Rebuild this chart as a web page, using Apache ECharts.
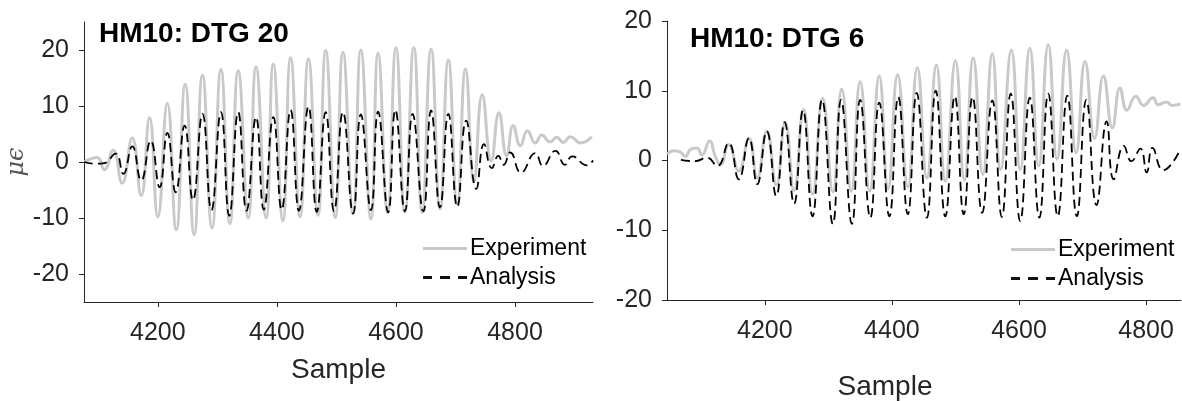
<!DOCTYPE html>
<html>
<head>
<meta charset="utf-8">
<title>HM10 strain</title>
<script src="https://cdn.jsdelivr.net/npm/echarts@6/dist/echarts.min.js"></script>
<style>
  html, body { margin: 0; padding: 0; background: #fff; }
  #chart { width: 1182px; height: 401px; }
</style>
</head>
<body>
<div id="chart"></div>
<script>
// HM10: DTG 20 (peaks / troughs)
const dtg20ExpX = [4076, 4098, 4110, 4125, 4140, 4157, 4172, 4186, 4200, 4216, 4231, 4246, 4261, 4275, 4291, 4306, 4321, 4335, 4352, 4365, 4382, 4394, 4410, 4423, 4439, 4453, 4469, 4482, 4498, 4511, 4528, 4541, 4558, 4570, 4586, 4600, 4615, 4630, 4644, 4659, 4674, 4688, 4703, 4717, 4731, 4745, 4760, 4773, 4786, 4797, 4809, 4821, 4834, 4845, 4859, 4870, 4881, 4893, 4910, 4929];
const dtg20ExpY = [0, 0.8, -1.4, 2.1, -3.8, 4.3, -6.0, 7.9, -9.8, 10.5, -12.1, 13.9, -13.0, 15.5, -11.8, 16.5, -11.0, 16.3, -10.0, 17.0, -10.0, 17.5, -10.5, 18.6, -9.8, 18.4, -9.5, 19.9, -9.9, 19.6, -9.3, 20.0, -10.2, 19.4, -9.0, 20.4, -9.0, 20.4, -9.0, 20.2, -8.4, 18.2, -7.5, 16.6, -3.5, 12.0, 0.2, 8.8, 1.1, 6.5, 2.9, 5.6, 3.4, 4.8, 3.6, 4.4, 3.5, 4.5, 3.4, 4.5];
const dtg20AnaX = [4076, 4095, 4110, 4129, 4142, 4157, 4172, 4188, 4203, 4216, 4230, 4245, 4259, 4275, 4290, 4306, 4320, 4335, 4349, 4365, 4378, 4394, 4408, 4423, 4437, 4453, 4467, 4482, 4496, 4511, 4528, 4541, 4558, 4570, 4587, 4599, 4615, 4628, 4646, 4659, 4674, 4688, 4703, 4718, 4735, 4748, 4761, 4772, 4781, 4792, 4810, 4834, 4847, 4868, 4884, 4896, 4921, 4931];
const dtg20AnaY = [0, -0.3, -0.2, 1.5, -2.1, 2.8, -3.3, 3.8, -4.5, 5.2, -5.4, 6.5, -6.8, 8.6, -8.6, 8.9, -9.6, 8.9, -8.7, 8.0, -8.5, 8.0, -8.5, 9.3, -8.7, 9.9, -8.9, 8.9, -8.8, 8.9, -9.2, 8.5, -8.6, 9.0, -9.0, 9.3, -8.8, 8.6, -8.8, 9.2, -8.1, 8.6, -8.0, 7.4, -4.8, 3.2, -1.1, 1.1, -0.5, 1.7, -1.9, 1.6, -0.7, 2.0, -0.5, 1.0, -0.6, 0.3];

// HM10: DTG 6
const dtg6ExpX = [4046, 4057, 4067, 4075, 4083, 4093, 4101, 4113, 4122, 4130, 4143, 4159, 4175, 4188, 4203, 4218, 4232, 4246, 4261, 4275, 4291, 4307, 4321, 4336, 4350, 4365, 4380, 4394, 4409, 4425, 4440, 4455, 4470, 4484, 4500, 4514, 4528, 4543, 4558, 4571, 4588, 4602, 4617, 4631, 4646, 4660, 4675, 4690, 4704, 4719, 4733, 4747, 4759, 4770, 4784, 4796, 4811, 4819, 4832, 4841, 4854];
const dtg6ExpY = [0.9, 1.4, 1.2, 0.6, 1.6, 1.8, 0.8, 2.8, 0.6, -0.6, 2.3, -1.5, 3.2, -2.5, 4.2, -3.5, 5.5, -4.3, 7.3, -4.8, 8.9, -4.5, 10.2, -4.4, 11.3, -4.4, 12.1, -4.0, 12.3, -3.8, 13.3, -2.5, 13.7, -3.0, 14.3, -2.8, 14.7, -2.0, 15.3, -1.3, 15.8, -1.3, 16.1, -0.8, 16.6, 0.2, 15.8, 1.1, 14.2, 3.2, 12.1, 4.7, 10.4, 7.2, 9.2, 7.9, 9.0, 8.0, 8.4, 7.9, 8.1];
const dtg6AnaX = [4068, 4090, 4109, 4125, 4143, 4159, 4175, 4188, 4203, 4218, 4231, 4246, 4260, 4275, 4290, 4307, 4320, 4337, 4350, 4366, 4380, 4396, 4410, 4425, 4439, 4455, 4469, 4484, 4499, 4513, 4527, 4542, 4558, 4573, 4587, 4602, 4617, 4632, 4646, 4661, 4676, 4691, 4706, 4722, 4738, 4749, 4765, 4777, 4791, 4801, 4810, 4827, 4854];
const dtg6AnaY = [0.1, -0.1, 0.4, -0.8, 2.5, -2.7, 3.2, -3.4, 4.2, -5.1, 5.5, -6.2, 7.2, -8.0, 8.7, -9.1, 8.7, -9.1, 8.7, -8.2, 8.3, -8.0, 9.1, -7.7, 9.7, -8.2, 10.0, -8.0, 9.2, -7.7, 9.1, -7.5, 8.6, -8.1, 9.6, -8.7, 9.0, -8.2, 9.6, -8.0, 9.3, -8.0, 8.7, -6.4, 5.6, -2.7, 2.1, -0.1, 1.7, -1.7, 1.8, -1.4, 1.6];

const xTicks = [4200, 4400, 4600, 4800];
const yTicksLeft = [-20, -10, 0, 10, 20];
const yTicksRight = [-20, -10, 0, 10, 20];
const titles = ["HM10: DTG 20", "HM10: DTG 6"];
const legendNames = ["Experiment", "Analysis"];

const FONT = "'Liberation Sans', Arial, Helvetica, sans-serif";
const AXIS_COLOR = "#262626";
const EXP_COLOR = "#c9c9c9";

// legend glyphs: a solid bar and three dashes
const ICON_SOLID = "path://M0,0h44v3h-44z";
const ICON_DASHED = "path://M0,0h9v3h-9z M17,0h10v3h-10z M35,0h9v3h-9z";

function zip(xs, ys) {
  return xs.map((x, i) => [x, ys[i]]);
}

function xAxisFor(gridIndex, min, max, nameGap, namePad) {
  return {
    type: "value",
    gridIndex,
    min,
    max,
    name: "Sample",
    nameLocation: "middle",
    nameGap,
    nameTextStyle: { fontFamily: FONT, fontSize: 28, color: AXIS_COLOR, padding: namePad },
    axisLine: { show: true, onZero: false, lineStyle: { color: AXIS_COLOR, width: 1 } },
    axisTick: { show: true, inside: false, length: 5, customValues: xTicks, lineStyle: { color: AXIS_COLOR } },
    axisLabel: {
      customValues: xTicks,
      formatter: (v) => String(v),
      margin: 19,
      fontFamily: FONT,
      fontSize: 25,
      color: AXIS_COLOR,
    },
    splitLine: { show: false },
  };
}

function yAxisFor(gridIndex, min, max, ticks, name) {
  return {
    type: "value",
    gridIndex,
    min,
    max,
    name,
    nameLocation: "middle",
    nameGap: 52,
    nameRotate: 90,
    nameTextStyle: { fontFamily: "'DejaVu Serif', serif", fontStyle: "italic", fontSize: 24, color: "#555" },
    axisLine: { show: true, onZero: false, lineStyle: { color: AXIS_COLOR, width: 1 } },
    axisTick: { show: true, inside: false, length: 5, customValues: ticks, lineStyle: { color: AXIS_COLOR } },
    axisLabel: {
      customValues: ticks,
      formatter: (v) => String(v),
      margin: 15,
      fontFamily: FONT,
      fontSize: 25,
      color: AXIS_COLOR,
    },
    splitLine: { show: false },
  };
}

function expSeries(i, data) {
  return {
    name: legendNames[0],
    type: "line",
    xAxisIndex: i,
    yAxisIndex: i,
    data,
    smooth: 0.5,
    symbol: "none",
    lineStyle: { color: EXP_COLOR, width: 3 },
    itemStyle: { color: EXP_COLOR },
    z: 2,
  };
}

function anaSeries(i, data) {
  return {
    name: legendNames[1],
    type: "line",
    xAxisIndex: i,
    yAxisIndex: i,
    data,
    smooth: 0.5,
    symbol: "none",
    lineStyle: { color: "#000", width: 1.8, type: [9, 5] },
    itemStyle: { color: "#000" },
    z: 3,
  };
}

function legendAt(left, top) {
  return {
    data: [
      { name: legendNames[0], icon: ICON_SOLID, itemStyle: { color: EXP_COLOR } },
      { name: legendNames[1], icon: ICON_DASHED, itemStyle: { color: "#111" } },
    ],
    orient: "vertical",
    left,
    top,
    itemWidth: 44,
    itemHeight: 3,
    itemGap: 0,
    padding: 0,
    selectedMode: false,
    textStyle: { fontFamily: FONT, fontSize: 23, color: "#000", lineHeight: 29, padding: [0, 0, 0, -2] },
  };
}

const chart = echarts.init(document.getElementById("chart"), null, { renderer: "canvas" });

chart.setOption({
  animation: false,
  backgroundColor: "#fff",
  title: [
    { text: titles[0], left: 99, top: 20, padding: 0, textStyle: { fontFamily: FONT, fontSize: 28, fontWeight: "bold", color: "#000" } },
    { text: titles[1], left: 690, top: 25, padding: 0, textStyle: { fontFamily: FONT, fontSize: 28, fontWeight: "bold", color: "#000" } },
  ],
  legend: [legendAt(423, 234), legendAt(1011, 235)],
  grid: [
    { left: 84, top: 22, width: 509, height: 280, outerBoundsMode: "none" },
    { left: 667, top: 21, width: 514, height: 279, outerBoundsMode: "none" },
  ],
  xAxis: [
    xAxisFor(0, 4076, 4931, 54, 0),
    xAxisFor(1, 4046, 4855, 73, [0, 78, 0, 0]),
  ],
  yAxis: [
    yAxisFor(0, -25, 25, yTicksLeft, "μϵ"),
    yAxisFor(1, -20, 20, yTicksRight, ""),
  ],
  series: [
    expSeries(0, zip(dtg20ExpX, dtg20ExpY)),
    anaSeries(0, zip(dtg20AnaX, dtg20AnaY)),
    expSeries(1, zip(dtg6ExpX, dtg6ExpY)),
    anaSeries(1, zip(dtg6AnaX, dtg6AnaY)),
  ],
});
</script>
</body>
</html>
